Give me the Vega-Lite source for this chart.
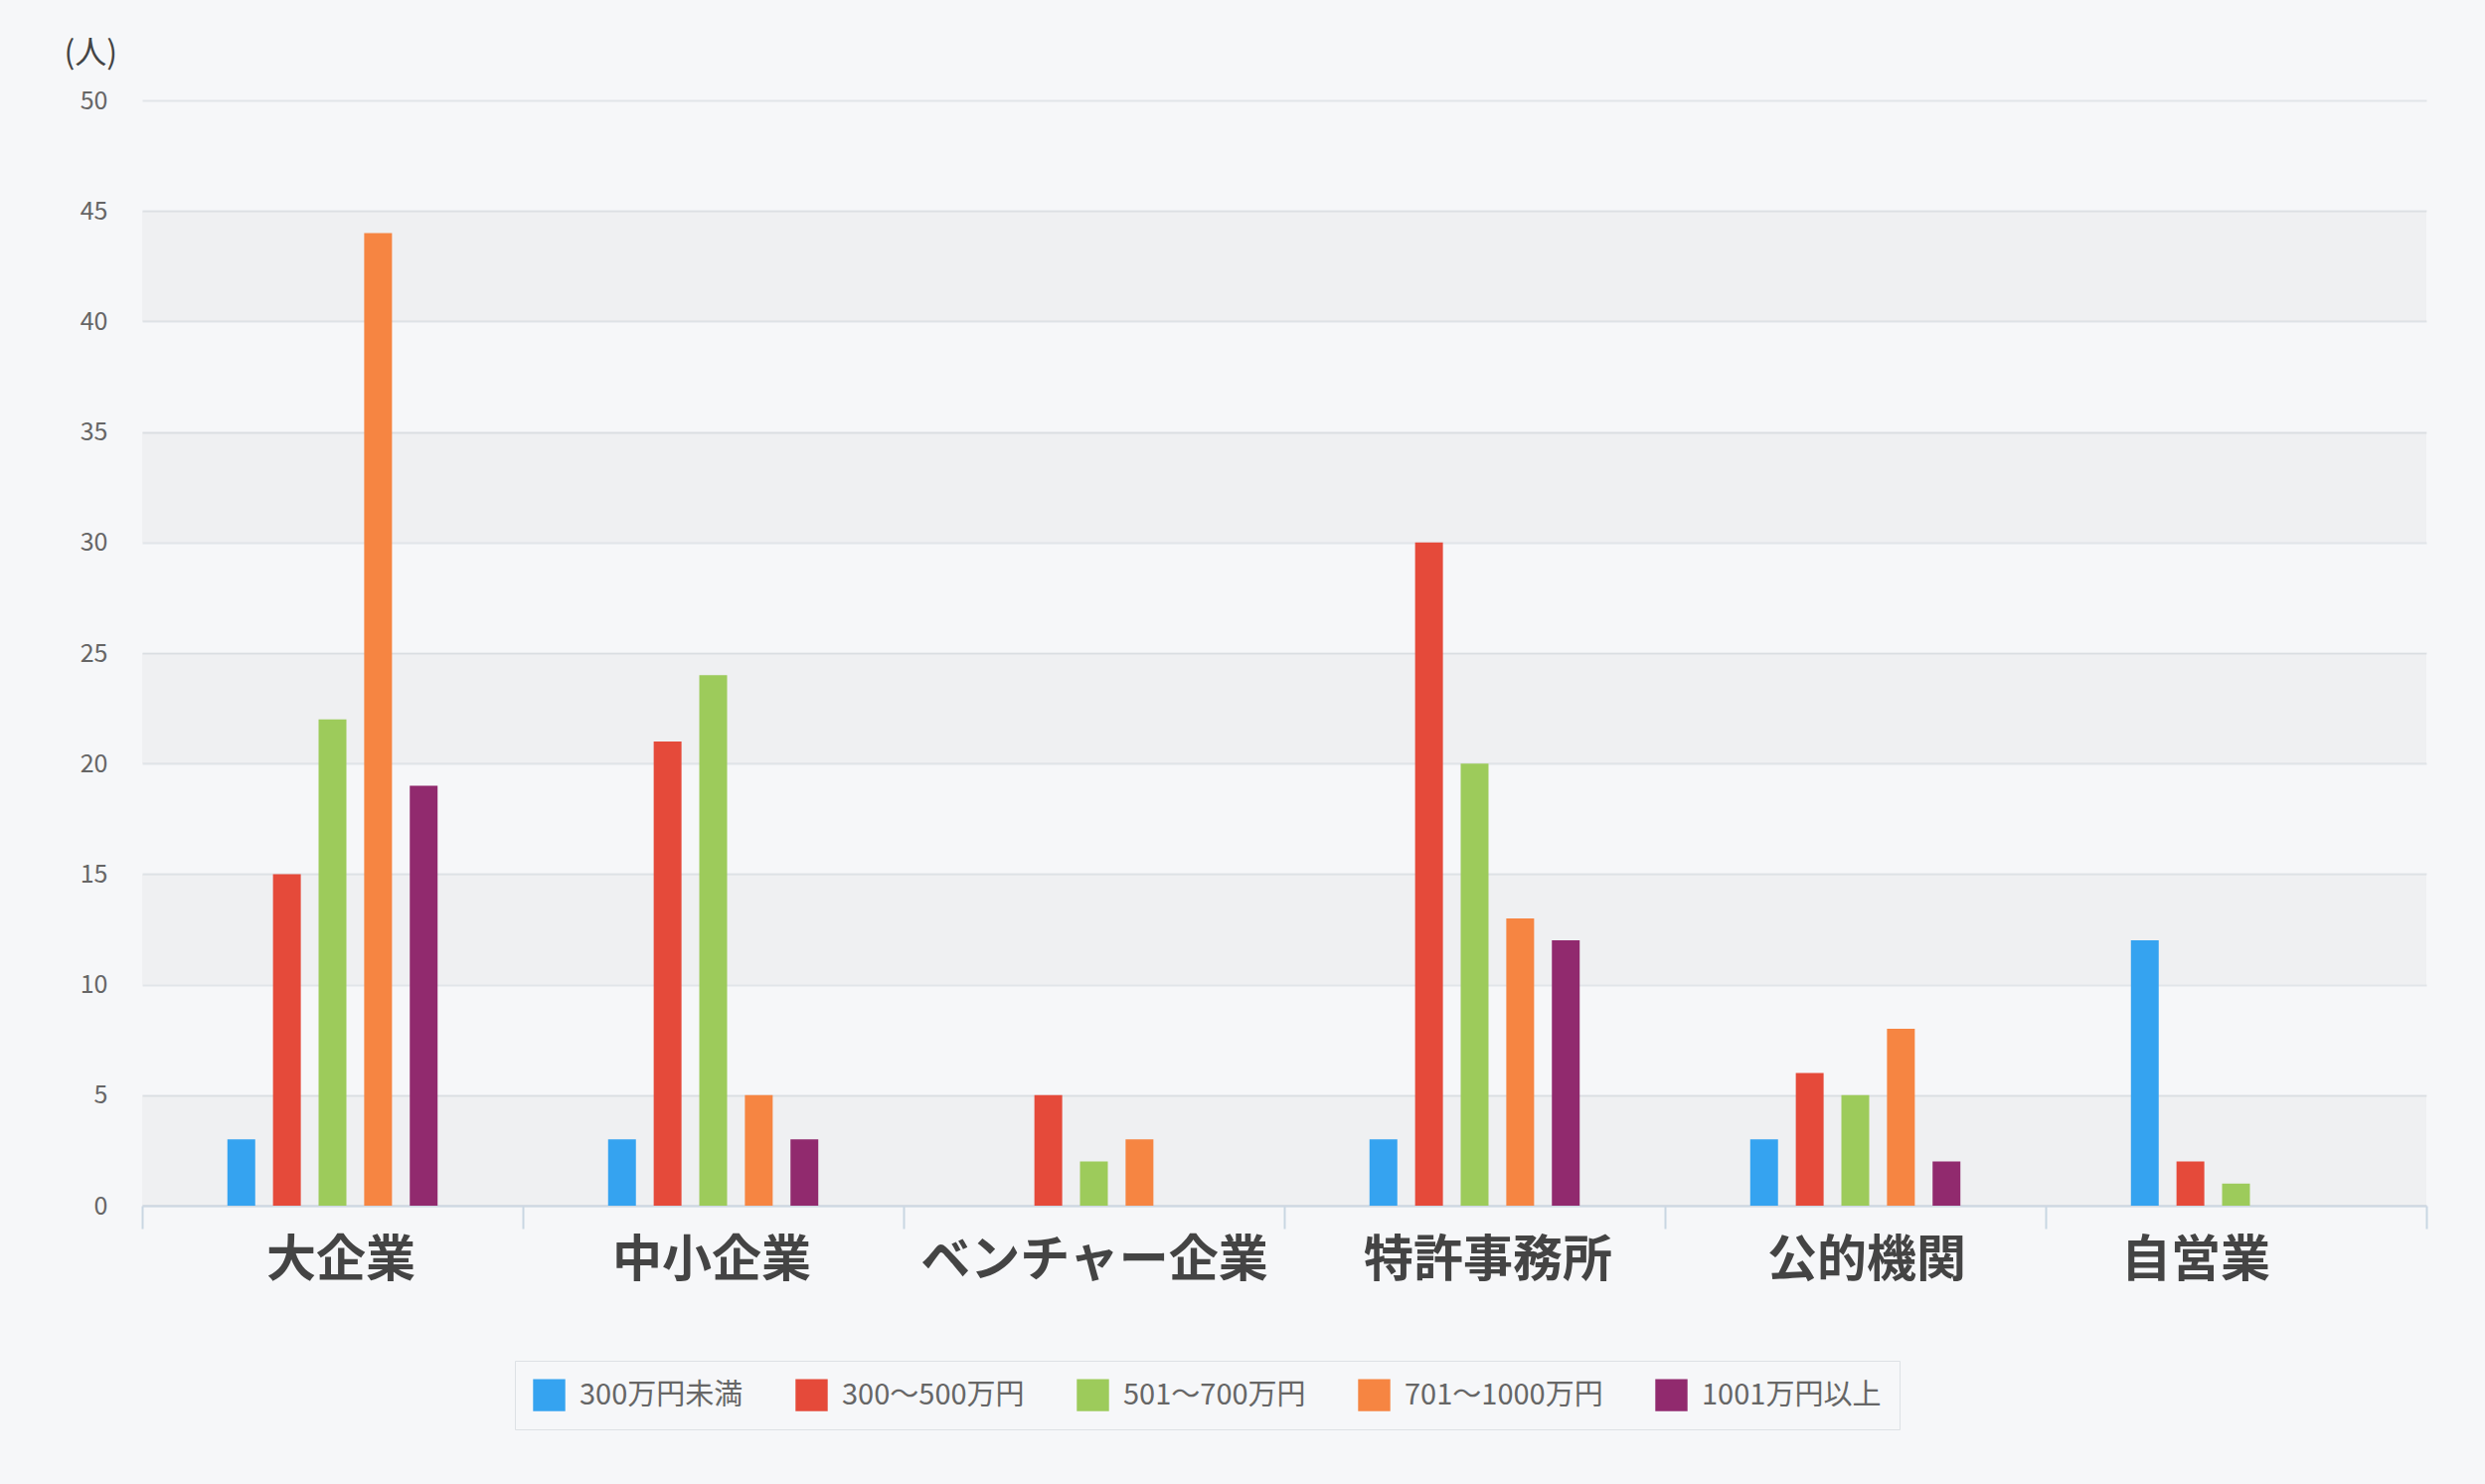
{
  "$schema": "https://vega.github.io/schema/vega-lite/v6.json",
  "width": 2298,
  "height": 1112,
  "autosize": "none",
  "padding": {"left": 143, "top": 101, "right": 59, "bottom": 280},
  "background": "#f6f7f9",
  "config": {
    "font": "Noto Sans CJK JP",
    "view": {"stroke": null, "fill": "#f6f7f9"}
  },
  "datasets": {
    "bars": [
      {"org": "大企業", "salary": "300万円未満", "n": 3},
      {"org": "大企業", "salary": "300～500万円", "n": 15},
      {"org": "大企業", "salary": "501～700万円", "n": 22},
      {"org": "大企業", "salary": "701～1000万円", "n": 44},
      {"org": "大企業", "salary": "1001万円以上", "n": 19},
      {"org": "中小企業", "salary": "300万円未満", "n": 3},
      {"org": "中小企業", "salary": "300～500万円", "n": 21},
      {"org": "中小企業", "salary": "501～700万円", "n": 24},
      {"org": "中小企業", "salary": "701～1000万円", "n": 5},
      {"org": "中小企業", "salary": "1001万円以上", "n": 3},
      {"org": "ベンチャー企業", "salary": "300～500万円", "n": 5},
      {"org": "ベンチャー企業", "salary": "501～700万円", "n": 2},
      {"org": "ベンチャー企業", "salary": "701～1000万円", "n": 3},
      {"org": "特許事務所", "salary": "300万円未満", "n": 3},
      {"org": "特許事務所", "salary": "300～500万円", "n": 30},
      {"org": "特許事務所", "salary": "501～700万円", "n": 20},
      {"org": "特許事務所", "salary": "701～1000万円", "n": 13},
      {"org": "特許事務所", "salary": "1001万円以上", "n": 12},
      {"org": "公的機関", "salary": "300万円未満", "n": 3},
      {"org": "公的機関", "salary": "300～500万円", "n": 6},
      {"org": "公的機関", "salary": "501～700万円", "n": 5},
      {"org": "公的機関", "salary": "701～1000万円", "n": 8},
      {"org": "公的機関", "salary": "1001万円以上", "n": 2},
      {"org": "自営業", "salary": "300万円未満", "n": 12},
      {"org": "自営業", "salary": "300～500万円", "n": 2},
      {"org": "自営業", "salary": "501～700万円", "n": 1}
    ],
    "stripes": [
      {"lo": 0, "hi": 5},
      {"lo": 10, "hi": 15},
      {"lo": 20, "hi": 25},
      {"lo": 30, "hi": 35},
      {"lo": 40, "hi": 45}
    ]
  },
  "layer": [
    {
      "data": {"name": "stripes"},
      "mark": {"type": "rect", "fill": "#000000", "opacity": 0.028},
      "encoding": {
        "y": {"field": "lo", "type": "quantitative", "scale": {"domain": [0, 50]}},
        "y2": {"field": "hi"}
      }
    },
    {
      "data": {"name": "bars"},
      "mark": {"type": "bar"},
      "encoding": {
        "x": {
          "field": "org",
          "type": "nominal",
          "sort": ["大企業", "中小企業", "ベンチャー企業", "特許事務所", "公的機関", "自営業"],
          "scale": {"paddingInner": 0, "paddingOuter": 0},
          "axis": {
            "title": null,
            "labelAngle": 0,
            "labelFontSize": 50,
            "labelFontWeight": "bold",
            "labelColor": "#444444",
            "labelPadding": 7,
            "labelBaseline": "top",
            "labelLimit": 0,
            "labelOffset": {
              "condition": [
                {"test": "datum.value === '大企業'", "value": 8},
                {"test": "datum.value === '中小企業'", "value": -2},
                {"test": "datum.value === '特許事務所'", "value": 13},
                {"test": "datum.value === '公的機関'", "value": 11},
                {"test": "datum.value === '自営業'", "value": -41}
              ],
              "value": 0
            },
            "domainColor": "#cdd8e3",
            "domainWidth": 2,
            "tickColor": "#c9d6e2",
            "tickWidth": 2,
            "tickSize": 23,
            "tickBand": "extent",
            "grid": false
          }
        },
        "xOffset": {
          "field": "salary",
          "type": "nominal",
          "scale": {
            "domain": ["_left", "300万円未満", "300～500万円", "501～700万円", "701～1000万円", "1001万円以上", "_right"],
            "paddingInner": 0.39,
            "paddingOuter": 0.87
          }
        },
        "y": {
          "field": "n",
          "type": "quantitative",
          "scale": {"domain": [0, 50]},
          "axis": {
            "values": [0, 5, 10, 15, 20, 25, 30, 35, 40, 45, 50],
            "domain": false,
            "ticks": false,
            "gridColor": "#e1e5e9",
            "gridWidth": 2,
            "labelFontSize": 25,
            "labelColor": "#666666",
            "labelPadding": 35,
            "title": "(人)",
            "titleAngle": 0,
            "titleAlign": "left",
            "titleBaseline": "middle",
            "titleX": -79,
            "titleY": -48,
            "titleFontSize": 32,
            "titleFontWeight": "normal",
            "titleColor": "#444444"
          }
        },
        "color": {
          "field": "salary",
          "type": "nominal",
          "scale": {
            "domain": ["300万円未満", "300～500万円", "501～700万円", "701～1000万円", "1001万円以上"],
            "range": ["#35a3f0", "#e54a3a", "#9dcb5b", "#f68542", "#912a6e"]
          },
          "legend": {
            "title": null,
            "orient": "none",
            "legendX": 375,
            "legendY": 1268,
            "direction": "horizontal",
            "symbolType": "square",
            "symbolSize": 1050,
            "symbolStrokeWidth": 0,
            "labelFontSize": 29,
            "labelColor": "#666666",
            "labelLimit": 0,
            "labelOffset": 14,
            "columnPadding": 52,
            "padding": 18,
            "strokeColor": "#dde1e5",
            "fillColor": "#f6f7f9"
          }
        }
      }
    }
  ]
}
